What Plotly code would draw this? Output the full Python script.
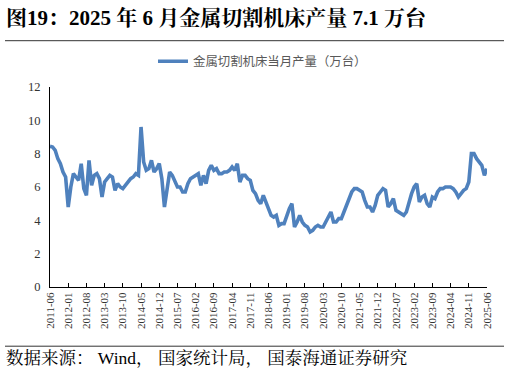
import pandas as pd
import plotly.graph_objects as go

# Monthly categories 2011-06 .. 2025-06
months = [d.strftime("%Y-%m") for d in pd.date_range("2011-06-01", "2025-06-01", freq="MS")]

# 金属切割机床当月产量（万台）
output = [
    8.44, 8.4, 8.2, 7.7, 7.4, 6.9, 6.6, 4.8, 6.0, 6.8, 6.6, 6.4,   # 2011-06..2012-05
    7.4, 5.9, 5.5, 7.6, 6.1, 6.7, 6.8, 6.5, 5.4, 6.3, 6.5, 6.7,    # ..2013-05
    6.6, 5.8, 6.2, 6.0, 5.9, 6.1, 6.3, 6.5, 6.6, 6.8, 6.7, 9.6,    # ..2014-05
    7.5, 7.0, 7.1, 7.6, 6.9, 7.1, 7.4, 6.5, 4.8, 6.0, 6.9, 6.7,    # ..2015-05
    6.4, 6.0, 6.0, 5.7, 5.7, 6.2, 6.5, 6.6, 6.7, 6.8, 6.1, 6.7,    # ..2016-05
    6.2, 7.0, 7.3, 7.0, 7.1, 6.8, 6.8, 6.9, 6.9, 7.0, 7.2, 7.0,    # ..2017-05
    7.4, 6.3, 6.7, 6.7, 6.5, 6.4, 5.8, 5.6, 5.2, 5.0, 5.5, 5.1,    # ..2018-05
    4.6, 4.3, 4.2, 4.3, 3.7, 3.8, 3.8, 4.3, 4.7, 5.0, 3.6, 3.9,    # ..2019-05
    4.3, 3.9, 3.7, 3.6, 3.3, 3.4, 3.6, 3.7, 3.6, 3.6, 3.9, 4.2,    # ..2020-05
    4.5, 3.9, 3.9, 4.1, 4.1, 4.5, 4.9, 5.3, 5.7, 5.9, 5.9, 5.8,    # ..2021-05
    5.7, 5.2, 4.8, 4.8, 4.5, 4.9, 5.5, 5.7, 5.9, 5.8, 4.8, 5.0,    # ..2022-05
    5.3, 4.6, 4.5, 4.4, 4.3, 4.5, 5.1, 5.6, 6.0, 6.2, 5.1, 5.4,    # ..2023-05
    5.5, 5.0, 4.8, 5.4, 5.3, 5.7, 5.9, 5.9, 6.0, 6.0, 6.0, 5.9,    # ..2024-05
    5.7, 5.4, 5.6, 5.8, 5.9, 6.3, 8.0, 8.0, 7.7, 7.5, 7.3, 6.7,    # ..2025-05
    7.1,                                                           # 2025-06
]

tick_labels = months[::7]
y_ticks = [0, 2, 4, 6, 8, 10, 12]

title_text = "图19：2025 年 6 月金属切割机床产量 7.1 万台"
series_name = "金属切割机床当月产量（万台）"
source_text = "数据来源： Wind， 国家统计局， 国泰海通证券研究"

SERIF = "Liberation Serif, Times New Roman, Noto Serif CJK SC, Noto Sans CJK SC, serif"

# plot area in pixels: left 50, right 487, top 87.3 (y=12), bottom 287.3 (y=0)
L, R, T, B = 50, 487, 87.3, 287.3
W_PA, H_PA = R - L, B - T


def px(x):
    return (x - L) / W_PA


def py(y):
    return (B - y) / H_PA


fig = go.Figure()
fig.add_trace(go.Scatter(
    x=months, y=output, mode="lines", name=series_name,
    line=dict(color="#4F81BD", width=3.6),
))

fig.update_layout(
    width=510, height=373,
    margin=dict(l=L, r=510 - R, t=T, b=373 - B),
    paper_bgcolor="white", plot_bgcolor="white",
    showlegend=True,
    legend=dict(
        orientation="h", x=px(153), y=py(62), xanchor="left", yanchor="middle",
        font=dict(family="Noto Sans CJK SC", size=12.4, color="#595959"),
        bgcolor="rgba(0,0,0,0)", itemwidth=30,
    ),
    title=dict(
        text="<b>" + title_text + "</b>",
        xref="container", yref="container", x=6/510, xanchor="left",
        y=1 - 18/373, yanchor="middle",
        font=dict(family=SERIF, size=21, color="black"),
    ),
    xaxis=dict(
        type="category", range=[0, len(months) - 1],
        tickmode="array", tickvals=tick_labels, ticktext=tick_labels,
        tickangle=-90, ticks="inside", ticklen=4, tickcolor="black",
        showline=True, linecolor="black", linewidth=1, showgrid=False,
        tickfont=dict(family=SERIF, size=11, color="#333333"),
        zeroline=False,
    ),
    yaxis=dict(
        range=[0, 12], tickvals=y_ticks,
        ticks="outside", ticklen=0, tickcolor="black",
        showline=True, linecolor="black", linewidth=1, showgrid=False,
        tickfont=dict(family=SERIF, size=12.5, color="#333333"),
        ticklabelstandoff=6, zeroline=False,
    ),
    shapes=[
        dict(type="line", xref="paper", yref="paper",
             x0=px(5), x1=px(504), y0=py(41), y1=py(41),
             line=dict(color="#333333", width=1)),
        dict(type="line", xref="paper", yref="paper",
             x0=px(5), x1=px(504), y0=py(346.5), y1=py(346.5),
             line=dict(color="#333333", width=1)),
    ],
    annotations=[
        dict(text=source_text, xref="paper", yref="paper",
             x=px(4), y=py(358), xanchor="left", yanchor="middle",
             showarrow=False, font=dict(family=SERIF, size=17.5, color="black")),
    ],
)

fig.write_html("out.html", config={"displayModeBar": False},
               post_script="document.body.style.margin='0';")
